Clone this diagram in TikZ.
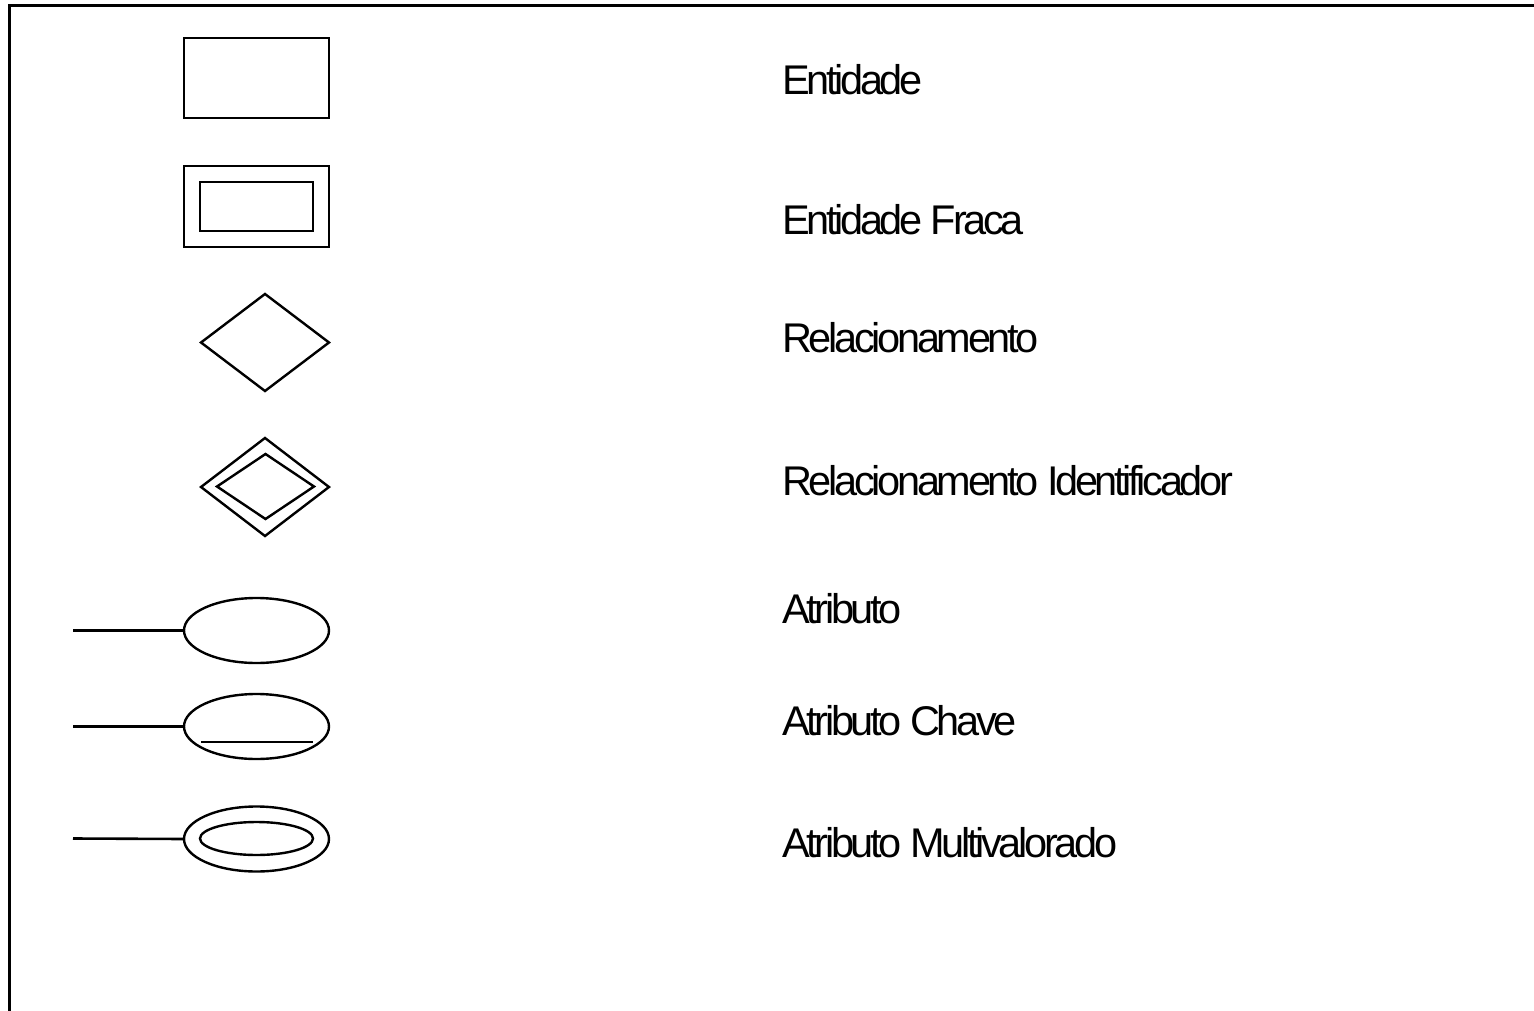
\documentclass[tikz,border=0pt]{standalone}
\usepackage{fontspec}
\setmainfont{Liberation Sans}
\newfontfamily\labfont{Liberation Sans}[LetterSpace=-8.0, Ligatures=NoCommon]
\usetikzlibrary{shapes.geometric}
\begin{document}
\begin{tikzpicture}[x=1pt,y=-1pt,
  shp/.style={draw=black, line width=2.4pt, inner sep=0pt, outer sep=0pt},
  rectshape/.style={shp, rectangle, minimum width=#1},
  diam/.style={shp, diamond},
  ell/.style={shp, ellipse, minimum width=145pt, minimum height=65pt},
  lab/.style={anchor=base west, inner sep=0pt, font=\labfont\fontsize{41.5}{48}\selectfont},
  conn/.style={draw=black, line width=2.6pt}
]
\useasboundingbox (0,0) rectangle (1534,1011);
% frame
\draw[line width=3pt] (9,1020) -- (9,6) -- (1540,6);

% Entidade
\node[rectshape=145pt, minimum height=80pt] (ent) at (256.5,78) {};
% Entidade fraca
\node[rectshape=145pt, minimum height=81pt] (fracaout) at (256.5,206.5) {};
\node[rectshape=113pt, minimum height=49pt] (fracain) at (256.5,206.5) {};
% Relacionamento
\node[diam, minimum width=128pt, minimum height=97pt] (rel) at (265,342.5) {};
% Relacionamento identificador
\node[diam, minimum width=128pt, minimum height=98pt] (relidout) at (265,487) {};
\node[diam, minimum width=97pt, minimum height=65pt] (relidin) at (265.5,486.5) {};
% Atributos
\node[ell] (at) at (256.5,630.5) {};
\coordinate (atl) at (73,630.5);
\draw[conn] (atl) -- (at.west);
\node[ell] (atk) at (256.5,726.5) {};
\coordinate (atkl) at (73,726.5);
\draw[conn] (atkl) -- (atk.west);
\draw[conn] ([xshift=-55.5pt,yshift=-15.5pt]atk.center) -- ([xshift=56.5pt,yshift=-15.5pt]atk.center);
\node[ell] (atm) at (256.5,839) {};
\node[shp, ellipse, minimum width=113pt, minimum height=33pt] (atmin) at (256.5,838.5) {};
\coordinate (atml) at (73,838.5);
\draw[conn] (atml) -- (atm.west);

% Labels
\node[lab] (t1) at (782,95) {Entidade};
\node[lab] (t2) at (782,234) {Entidade Fraca};
\node[lab] (t3) at (782,352) {Relacionamento};
\node[lab] (t4) at (782,495) {Relacionamento Identificador};
\node[lab] (t5) at (782,623) {Atributo};
\node[lab] (t6) at (782,735) {Atributo Chave};
\node[lab] (t7) at (782,857) {Atributo Multivalorado};
\end{tikzpicture}
\end{document}
